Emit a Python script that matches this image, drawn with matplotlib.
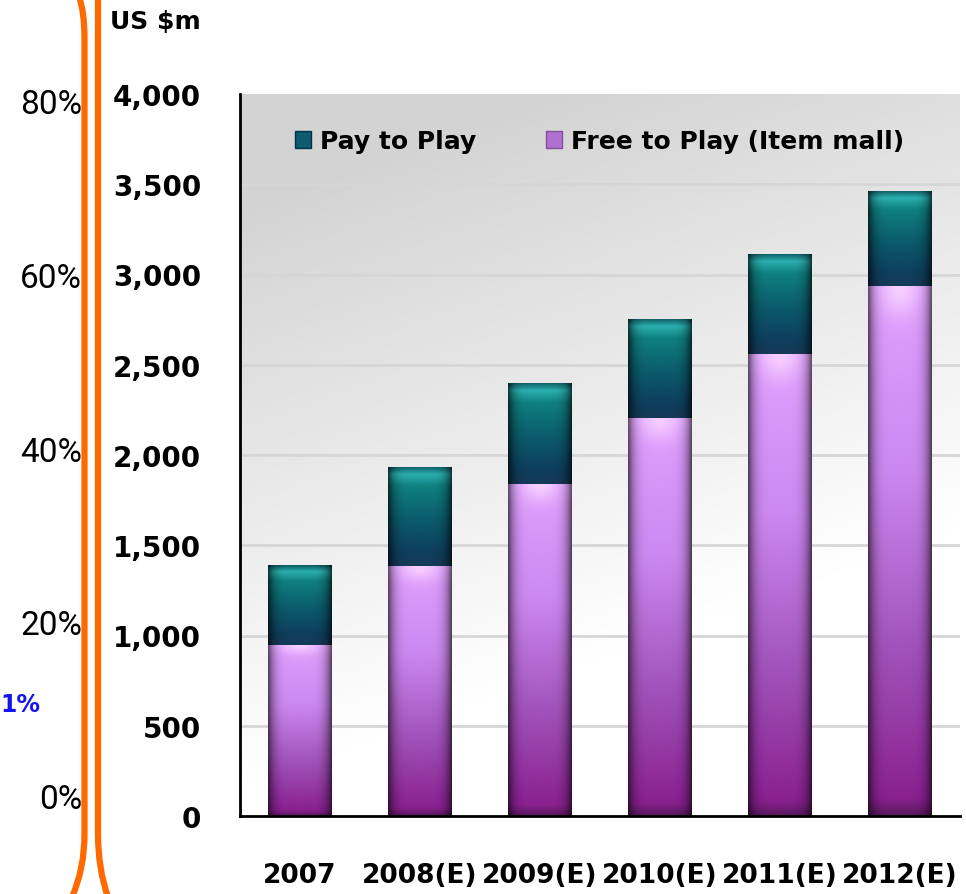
import numpy as np
import matplotlib.pyplot as plt
from matplotlib.colors import to_rgb
from matplotlib.patches import Patch
from matplotlib.path import Path
from matplotlib.patches import PathPatch

# data (US $m)
years = ['2007', '2008(E)', '2009(E)', '2010(E)', '2011(E)', '2012(E)']
free_to_play = [950, 1385, 1840, 2205, 2560, 2935]
pay_to_play = [440, 550, 560, 550, 555, 530]
y_ticks = [0, 500, 1000, 1500, 2000, 2500, 3000, 3500, 4000]

# left strip (from a neighbouring chart)
pct_values = [0, 20, 40, 60, 80]
pct_labels = ['0%', '20%', '40%', '60%', '80%']
highlight_label = '1%'

plt.rcParams['font.family'] = ['DejaVu Sans']


def stops_image(stops, n=160, m=64, edge=0.5, glow=None):
    # stops: list of (pos, colour) from top (0) to bottom (1)
    t = np.linspace(0, 1, n)
    pos = [s[0] for s in stops]
    cols = np.array([to_rgb(s[1]) for s in stops])
    col = np.stack([np.interp(t, pos, cols[:, k]) for k in range(3)], axis=-1)
    img = np.repeat(col[:, None, :], m, axis=1)
    x = np.linspace(-1, 1, m)
    shade = 1 - edge * np.abs(x) ** 5
    img = img * shade[None, :, None]
    if glow is not None:
        gy = np.exp(-((t - 0.0) / 0.05) ** 2)[:, None]
        gx = np.exp(-(x / 0.6) ** 2)[None, :]
        g = (gy * gx)[:, :, None]
        img = img * (1 - g) + np.array(to_rgb(glow)) * g
    return np.clip(img, 0, 1)


purple_img = stops_image([(0, '#e0a0ff'), (0.35, '#cc88f0'), (0.7, '#a050b8'),
                          (0.97, '#8a2090'), (1, '#5a1a60')], edge=0.6, glow='#f8d0ff')
teal_img = stops_image([(0, '#0b5a62'), (0.08, '#2cb0b0'), (0.2, '#0f8080'),
                        (0.55, '#0b5a6c'), (0.85, '#0e3f5e'), (1, '#163a58')], edge=0.65)

fig = plt.figure(figsize=(9.66, 8.95), dpi=100)
ax = fig.add_axes([240 / 966, 78 / 895, 720 / 966, 722 / 895])

# background gradient
yy, xx = np.mgrid[1:0:200j, 0:1:200j]
g = 1 - 0.17 * np.clip(yy * 1.25 - xx * 0.45 - 0.05, 0, 1)
ax.imshow(np.dstack([g, g, g]), extent=(0, 1, 0, 1), transform=ax.transAxes,
          aspect='auto', zorder=0, interpolation='bilinear')

for yt in y_ticks[1:-1]:
    ax.axhline(yt, color='#d6d6d6', lw=2, zorder=1)

x = np.arange(len(years))
w = 0.53
b1 = ax.bar(x, free_to_play, w, color='#b070d0', zorder=2, lw=0)
b2 = ax.bar(x, pay_to_play, w, bottom=free_to_play, color='#0e5a6e', zorder=2, lw=0)

for bars, img in [(b1, purple_img), (b2, teal_img)]:
    for p in bars:
        x0, y0 = p.get_x(), p.get_y()
        im = ax.imshow(img, extent=(x0, x0 + p.get_width(), y0, y0 + p.get_height()),
                       aspect='auto', zorder=3, interpolation='bilinear')
        im.set_clip_path(p)

ax.set_xlim(-0.5, len(years) - 0.5)
ax.set_ylim(0, 4000)
ax.set_yticks(y_ticks)
ax.set_yticklabels([f'{v:,}' for v in y_ticks], fontsize=20, fontweight='bold')
ax.set_xticks(x)
ax.set_xticklabels(years, fontsize=19, fontweight='bold')
ax.tick_params(axis='y', length=0, pad=28)
ax.tick_params(axis='x', length=0, pad=33)
for s in ['top', 'right']:
    ax.spines[s].set_visible(False)
for s in ['left', 'bottom']:
    ax.spines[s].set_linewidth(2)
    ax.spines[s].set_zorder(5)

handles = [Patch(facecolor='#0e5a6e', edgecolor='#0a3040'),
           Patch(facecolor='#b070d0', edgecolor='#8a4aa0')]
ax.legend(handles, ['Pay to Play', 'Free to Play (Item mall)'], ncol=2,
          loc='upper left', bbox_to_anchor=(0.045, 0.982), frameon=False,
          prop={'size': 18, 'weight': 'bold'}, handlelength=0.65, handleheight=0.65,
          handletextpad=0.35, columnspacing=2.8)

fig.text(110 / 966, 1 - 22 / 895, 'US $m', fontsize=18, fontweight='bold',
         ha='left', va='center')

# left strip overlay
ov = fig.add_axes([0, 0, 1, 1], zorder=-1)
ov.set_xlim(0, 966)
ov.set_ylim(895, 0)
ov.axis('off')
for v, lab in zip(pct_values, pct_labels):
    ov.text(82, 800 - v / 80 * 695, lab, fontsize=24, family=['Roboto', 'DejaVu Sans'],
            fontweight='normal', color='black', ha='right', va='center')
ov.text(0, 705, highlight_label, fontsize=17, fontweight='bold', color='#1414f0',
        ha='left', va='center')

orange = '#ff6a00'
left_path = Path([(79, -2), (84.5, 12), (84.5, 40), (84.5, 835), (84.5, 870), (72, 898)],
                 [Path.MOVETO, Path.CURVE3, Path.CURVE3, Path.LINETO,
                  Path.CURVE3, Path.CURVE3])
right_path = Path([(98, -2), (98, 835), (98, 870), (108, 898)],
                  [Path.MOVETO, Path.LINETO, Path.CURVE3, Path.CURVE3])
for pth in [left_path, right_path]:
    ov.add_patch(PathPatch(pth, fill=False, edgecolor=orange, lw=4.5))

fig.savefig('out.png', dpi=100)
